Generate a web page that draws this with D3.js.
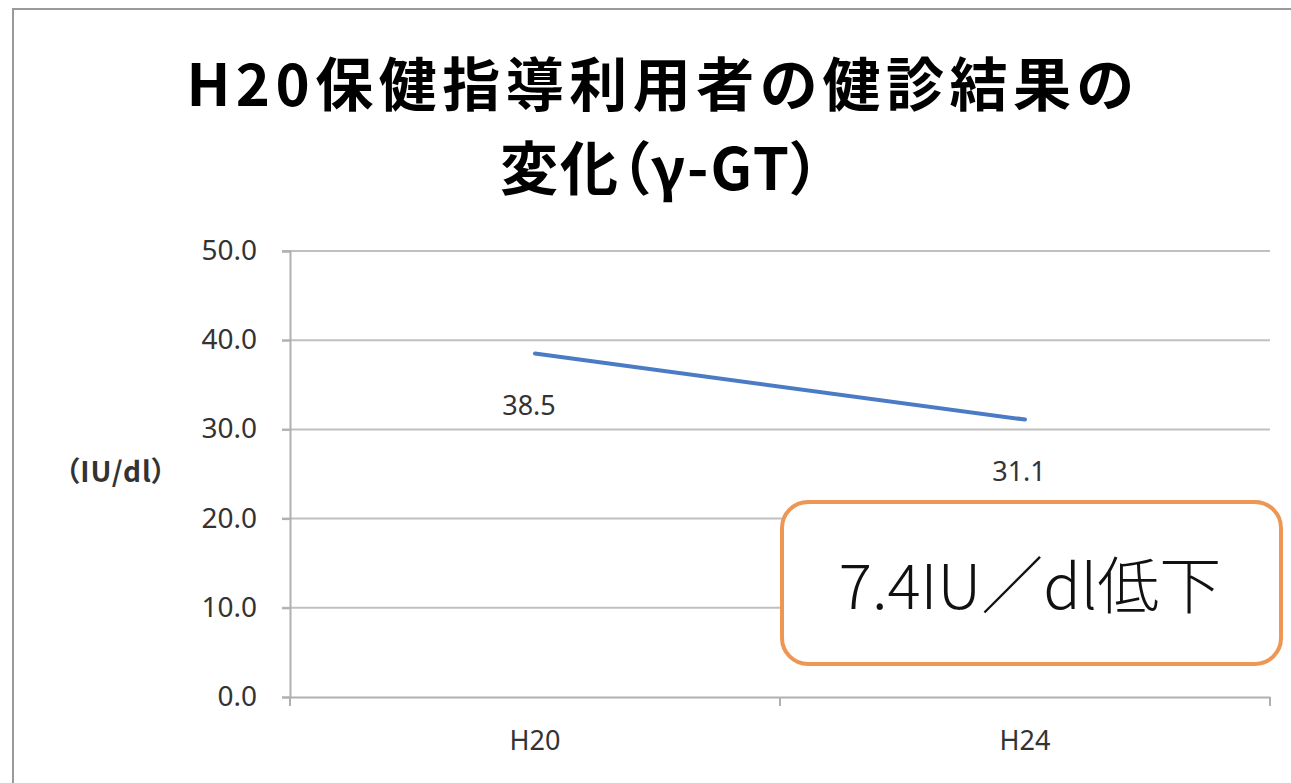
<!DOCTYPE html>
<html><head><meta charset="utf-8">
<script src="https://cdn.jsdelivr.net/npm/d3@7/dist/d3.min.js"></script>
<style>body{margin:0;background:#fff;}svg{display:block;} text{font-feature-settings:"palt";}</style>
</head><body>
<svg id="c" width="1291" height="783"></svg>
<script>
const titleLines = ["H20保健指導利用者の健診結果の", "変化（γ-GT）"];
const categories = ["H20", "H24"];
const values = [38.5, 31.1];
const yTicks = [0, 10, 20, 30, 40, 50];
const yAxisTitle = "（IU/dl）";
const annotation = "7.4IU／dl低下";

const svg = d3.select("#c");
const font = "'Noto Sans CJK JP','Noto Sans',sans-serif";
const latin = "'Noto Sans','Noto Sans CJK JP',sans-serif";

// chart border
svg.append("path").attr("d","M13,783 L13,9 L1291,9").attr("fill","none").attr("stroke","#9a9a9a").attr("stroke-width",2);

// title
const tSpacing = [5.5, 2];
svg.selectAll("text.title").data(titleLines).join("text")
  .attr("x",(d,i)=>660 + tSpacing[i]/2).attr("y",(d,i)=>106+i*84)
  .attr("text-anchor","middle").attr("font-family",font).attr("font-weight","bold")
  .attr("letter-spacing",(d,i)=>tSpacing[i])
  .attr("font-size",58).attr("fill","#000").text(d=>d);

const x = d3.scaleBand().domain(categories).range([290,1270]);
const y = d3.scaleLinear().domain([0,50]).range([697,251]);

// gridlines
svg.append("g").selectAll("line").data(yTicks.filter(t=>t>0)).join("line")
  .attr("x1",282).attr("x2",1270).attr("y1",d=>y(d)).attr("y2",d=>y(d))
  .attr("stroke","#c0c0c0").attr("stroke-width",2);

// y axis
const yAxis = d3.axisLeft(y).tickValues(yTicks).tickFormat(d3.format(".1f")).tickSize(8).tickPadding(25);
const gy = svg.append("g").attr("transform","translate(290,0)").call(yAxis);
gy.select(".domain").attr("stroke","#b0b0b0").attr("stroke-width",2);
gy.selectAll(".tick line").attr("stroke","#b0b0b0").attr("stroke-width",2);
gy.selectAll(".tick text").attr("font-family",latin).attr("font-size",28).attr("fill","#333").attr("dy","0.3em");

// x axis
const xAxis = d3.axisBottom(x).tickSize(0).tickPadding(34);
const gx = svg.append("g").attr("transform","translate(0,697)").call(xAxis);
gx.select(".domain").attr("stroke","#b0b0b0").attr("stroke-width",2);
gx.selectAll(".tick text").attr("font-family",latin).attr("font-size",27).attr("fill","#333");
// category boundary ticks
svg.append("g").selectAll("line").data([290, ...categories.map(c=>x(c)+x.bandwidth())]).join("line")
  .attr("x1",d=>d).attr("x2",d=>d).attr("y1",697).attr("y2",706)
  .attr("stroke","#b0b0b0").attr("stroke-width",2);

// y axis title
svg.append("text").attr("x",116).attr("y",482).attr("text-anchor","middle")
  .attr("font-family",font).attr("font-weight","bold").attr("font-size",28)
  .attr("letter-spacing",1).attr("fill","#333").text(yAxisTitle);

// line
const pts = categories.map((c,i)=>({c, v:values[i]}));
svg.append("path").datum(pts)
  .attr("d", d3.line().x(d=>x(d.c)+x.bandwidth()/2).y(d=>y(d.v)))
  .attr("fill","none").attr("stroke","#4A7BC4").attr("stroke-width",4).attr("stroke-linecap","round");

// data labels
svg.selectAll("text.lbl").data(pts).join("text")
  .attr("x",d=>x(d.c)+x.bandwidth()/2-6).attr("y",d=>y(d.v)+61)
  .attr("text-anchor","middle").attr("font-family",latin).attr("font-size",27).attr("fill","#333")
  .text(d=>d.v.toFixed(1));

// annotation box
svg.append("rect").attr("x",782).attr("y",502).attr("width",499).attr("height",162).attr("rx",26)
  .attr("fill","#fff").attr("stroke","#EE9653").attr("stroke-width",4);
svg.append("text").attr("x",1030).attr("y",609).attr("text-anchor","middle")
  .attr("font-family",font).attr("font-weight",300).attr("font-size",62).attr("fill","#111").text(annotation);
</script>
</body></html>
